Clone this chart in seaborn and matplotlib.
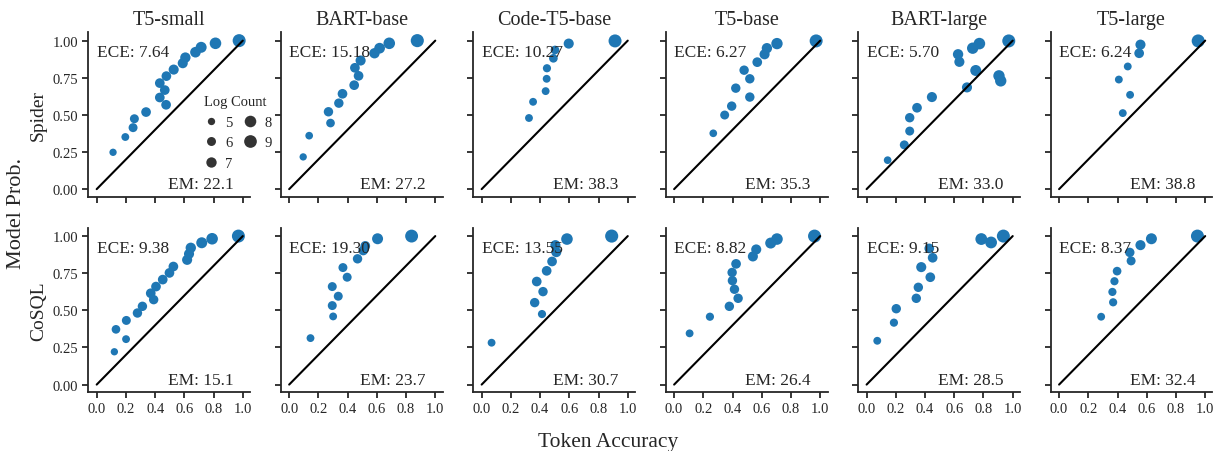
import numpy as np
import pandas as pd
import matplotlib
matplotlib.use("Agg")
import matplotlib.pyplot as plt
from matplotlib.lines import Line2D
import seaborn as sns
from matplotlib.ticker import FormatStrFormatter

# ---------------- data ----------------
models = ["T5-small", "BART-base", "Code-T5-base", "T5-base", "BART-large", "T5-large"]
datasets = ["Spider", "CoSQL"]

spider_ece = [7.64, 15.18, 10.27, 6.27, 5.70, 6.24]
spider_em = [22.1, 27.2, 38.3, 35.3, 33.0, 38.8]
cosql_ece = [9.38, 19.30, 13.55, 8.82, 9.15, 8.37]
cosql_em = [15.1, 23.7, 30.7, 26.4, 28.5, 32.4]

legend_counts = [5, 6, 7, 8, 9]

# Spider
sp_t5s_acc = [0.112, 0.196, 0.249, 0.258, 0.338, 0.432, 0.432, 0.466, 0.475, 0.477, 0.527, 0.589, 0.607, 0.676, 0.715, 0.813, 0.975]
sp_t5s_prob = [0.248, 0.351, 0.414, 0.474, 0.519, 0.617, 0.714, 0.667, 0.568, 0.761, 0.805, 0.848, 0.886, 0.922, 0.955, 0.982, 1.0]
sp_t5s_cnt = [5.0, 5.3, 6.0, 6.0, 6.5, 6.5, 6.5, 6.5, 6.5, 6.5, 6.8, 6.8, 7.0, 7.2, 7.5, 8.0, 9.3]

sp_bartb_acc = [0.096, 0.137, 0.269, 0.283, 0.340, 0.365, 0.445, 0.475, 0.450, 0.489, 0.584, 0.619, 0.685, 0.877]
sp_bartb_prob = [0.217, 0.360, 0.521, 0.445, 0.579, 0.642, 0.700, 0.763, 0.817, 0.866, 0.915, 0.949, 0.982, 1.0]
sp_bartb_cnt = [5.0, 5.2, 6.3, 5.8, 6.3, 6.5, 6.5, 6.5, 6.5, 6.8, 7.0, 7.3, 8.0, 9.4]

sp_codet5_acc = [0.324, 0.352, 0.438, 0.445, 0.447, 0.491, 0.502, 0.596, 0.913]
sp_codet5_prob = [0.479, 0.588, 0.660, 0.743, 0.814, 0.881, 0.937, 0.980, 0.998]
sp_codet5_cnt = [5.3, 5.3, 5.3, 5.3, 5.5, 5.8, 5.8, 6.8, 9.3]

sp_t5b_acc = [0.268, 0.346, 0.394, 0.422, 0.479, 0.518, 0.518, 0.569, 0.619, 0.635, 0.704, 0.972]
sp_t5b_prob = [0.376, 0.499, 0.559, 0.680, 0.801, 0.743, 0.620, 0.855, 0.908, 0.949, 0.980, 0.998]
sp_t5b_cnt = [5.2, 6.0, 6.3, 6.3, 6.3, 6.3, 6.3, 6.5, 6.8, 7.0, 7.8, 9.3]

sp_bartl_acc = [0.144, 0.258, 0.295, 0.295, 0.345, 0.447, 0.687, 0.626, 0.635, 0.726, 0.772, 0.747, 0.906, 0.918, 0.973]
sp_bartl_prob = [0.195, 0.298, 0.391, 0.481, 0.548, 0.620, 0.685, 0.908, 0.857, 0.949, 0.980, 0.799, 0.763, 0.729, 0.998]
sp_bartl_cnt = [5.2, 6.0, 6.0, 6.3, 6.5, 6.8, 6.8, 7.0, 6.8, 7.8, 8.0, 7.5, 7.8, 7.8, 9.3]

sp_t5l_acc = [0.436, 0.486, 0.409, 0.470, 0.548, 0.557, 0.952]
sp_t5l_prob = [0.512, 0.635, 0.738, 0.826, 0.915, 0.973, 0.998]
sp_t5l_cnt = [5.3, 5.3, 5.3, 5.3, 6.5, 6.8, 9.3]

# CoSQL
co_t5s_acc = [0.121, 0.132, 0.201, 0.203, 0.279, 0.313, 0.370, 0.390, 0.406, 0.452, 0.498, 0.525, 0.619, 0.632, 0.644, 0.719, 0.790, 0.970]
co_t5s_prob = [0.221, 0.372, 0.306, 0.432, 0.482, 0.527, 0.615, 0.572, 0.660, 0.707, 0.752, 0.795, 0.840, 0.880, 0.921, 0.955, 0.982, 1.0]
co_t5s_cnt = [5.0, 5.8, 5.3, 6.0, 6.3, 6.3, 6.5, 6.3, 6.5, 6.5, 6.5, 6.5, 6.8, 6.8, 7.0, 7.5, 8.0, 9.3]

co_bartb_acc = [0.146, 0.295, 0.295, 0.301, 0.336, 0.368, 0.397, 0.468, 0.507, 0.521, 0.605, 0.838]
co_bartb_prob = [0.313, 0.660, 0.532, 0.459, 0.595, 0.788, 0.723, 0.847, 0.903, 0.934, 0.982, 1.0]
co_bartb_cnt = [5.3, 6.0, 6.0, 5.3, 6.0, 6.0, 6.0, 6.3, 6.5, 6.5, 7.5, 9.2]

co_codet5_acc = [0.068, 0.413, 0.363, 0.420, 0.377, 0.445, 0.482, 0.511, 0.505, 0.584, 0.890]
co_codet5_prob = [0.282, 0.475, 0.552, 0.626, 0.694, 0.766, 0.829, 0.892, 0.939, 0.980, 1.0]
co_codet5_cnt = [5.3, 5.5, 6.3, 6.3, 6.5, 6.5, 6.5, 6.8, 6.8, 8.0, 9.4]

co_t5b_acc = [0.106, 0.245, 0.378, 0.438, 0.413, 0.399, 0.397, 0.424, 0.539, 0.562, 0.661, 0.704, 0.961]
co_t5b_prob = [0.345, 0.457, 0.527, 0.581, 0.642, 0.700, 0.755, 0.813, 0.863, 0.910, 0.953, 0.980, 1.0]
co_t5b_cnt = [5.3, 5.5, 6.3, 6.3, 6.3, 6.3, 6.3, 6.5, 6.8, 6.8, 7.5, 8.0, 9.3]

co_bartl_acc = [0.073, 0.187, 0.203, 0.340, 0.354, 0.436, 0.374, 0.452, 0.429, 0.785, 0.852, 0.936]
co_bartl_prob = [0.295, 0.417, 0.511, 0.581, 0.655, 0.723, 0.791, 0.854, 0.917, 0.980, 0.957, 1.0]
co_bartl_cnt = [5.3, 5.5, 6.3, 6.3, 6.3, 6.5, 6.8, 6.5, 6.5, 8.2, 8.2, 9.3]

co_t5l_acc = [0.288, 0.370, 0.365, 0.379, 0.397, 0.493, 0.484, 0.557, 0.632, 0.947]
co_t5l_prob = [0.457, 0.554, 0.624, 0.696, 0.764, 0.833, 0.890, 0.939, 0.982, 1.0]
co_t5l_cnt = [5.3, 5.5, 5.5, 5.5, 5.8, 6.0, 6.3, 6.8, 7.5, 9.3]

x_ticks = [0.0, 0.2, 0.4, 0.6, 0.8, 1.0]
y_ticks = [0.0, 0.25, 0.5, 0.75, 1.0]

panels = {
    ("Spider", "T5-small"): (sp_t5s_acc, sp_t5s_prob, sp_t5s_cnt),
    ("Spider", "BART-base"): (sp_bartb_acc, sp_bartb_prob, sp_bartb_cnt),
    ("Spider", "Code-T5-base"): (sp_codet5_acc, sp_codet5_prob, sp_codet5_cnt),
    ("Spider", "T5-base"): (sp_t5b_acc, sp_t5b_prob, sp_t5b_cnt),
    ("Spider", "BART-large"): (sp_bartl_acc, sp_bartl_prob, sp_bartl_cnt),
    ("Spider", "T5-large"): (sp_t5l_acc, sp_t5l_prob, sp_t5l_cnt),
    ("CoSQL", "T5-small"): (co_t5s_acc, co_t5s_prob, co_t5s_cnt),
    ("CoSQL", "BART-base"): (co_bartb_acc, co_bartb_prob, co_bartb_cnt),
    ("CoSQL", "Code-T5-base"): (co_codet5_acc, co_codet5_prob, co_codet5_cnt),
    ("CoSQL", "T5-base"): (co_t5b_acc, co_t5b_prob, co_t5b_cnt),
    ("CoSQL", "BART-large"): (co_bartl_acc, co_bartl_prob, co_bartl_cnt),
    ("CoSQL", "T5-large"): (co_t5l_acc, co_t5l_prob, co_t5l_cnt),
}
ece = {"Spider": spider_ece, "CoSQL": cosql_ece}
em = {"Spider": spider_em, "CoSQL": cosql_em}

# ---------------- style ----------------
sns.set_theme(style="ticks")
plt.rcParams["font.family"] = ["Liberation Serif", "DejaVu Serif"]
plt.rcParams["axes.linewidth"] = 1.3
plt.rcParams["xtick.major.width"] = 1.3
plt.rcParams["ytick.major.width"] = 1.3
plt.rcParams["xtick.major.size"] = 4
plt.rcParams["ytick.major.size"] = 4

dot_color = "#1f77b4"
fig, axes = plt.subplots(2, 6, figsize=(12.17, 4.52), dpi=100, sharex=True, sharey=True)
fig.subplots_adjust(left=0.0726, right=0.9963, top=0.9263, bottom=0.1305,
                    wspace=0.19, hspace=0.19)

size_norm = (4.8, 9.4)
size_range = (25, 89)


def size_of(v):
    f = (v - size_norm[0]) / (size_norm[1] - size_norm[0])
    return size_range[0] + f * (size_range[1] - size_range[0])


for r, ds in enumerate(datasets):
    for c, m in enumerate(models):
        ax = axes[r, c]
        acc, prob, cnt = panels[(ds, m)]
        df = pd.DataFrame({"acc": acc, "prob": prob, "Log Count": cnt})
        sns.scatterplot(data=df, x="acc", y="prob", size="Log Count",
                        size_norm=size_norm, sizes=size_range,
                        color=dot_color, edgecolor="none", linewidth=0,
                        legend=False, ax=ax, zorder=2)
        ax.plot([0, 1], [0, 1], color="black", lw=1.5, zorder=3)
        ax.text(0.0, 0.895, f"ECE: {ece[ds][c]:.2f}", ha="left", va="baseline",
                fontsize=12.5, zorder=4)
        ax.text(0.935, 0.005, f"EM: {em[ds][c]:.1f}", ha="right", va="baseline",
                fontsize=12.5, zorder=4)
        ax.set_xlim(-0.057, 1.05)
        ax.set_ylim(-0.05, 1.056)
        ax.set_xticks(x_ticks)
        ax.set_yticks(y_ticks)
        ax.xaxis.set_major_formatter(FormatStrFormatter("%.1f"))
        ax.yaxis.set_major_formatter(FormatStrFormatter("%.2f"))
        ax.tick_params(labelsize=10.5)
        ax.set_xlabel("")
        ax.set_ylabel(ds if c == 0 else "", fontsize=14)
        if r == 0:
            ax.set_title(m, fontsize=14.5, pad=6)
        sns.despine(ax=ax)

handles = [Line2D([], [], ls="none", marker="o", markersize=np.sqrt(size_of(v)),
                  markerfacecolor="#333333", markeredgecolor="none")
           for v in legend_counts]
labels = [str(v) for v in legend_counts]
axes[0, 0].legend(handles, labels, loc="center", bbox_to_anchor=(0.91, 0.39), ncol=2,
                  frameon=False, title="Log Count", fontsize=10.5, title_fontsize=10.5,
                  columnspacing=0.4, handletextpad=0.2, labelspacing=0.5,
                  handlelength=1.6)

fig.supxlabel("Token Accuracy", fontsize=15.5, y=0.0, va="bottom")
fig.supylabel("Model Prob.", fontsize=16, x=0.006, y=0.528)

fig.savefig("out.png", dpi=100)
